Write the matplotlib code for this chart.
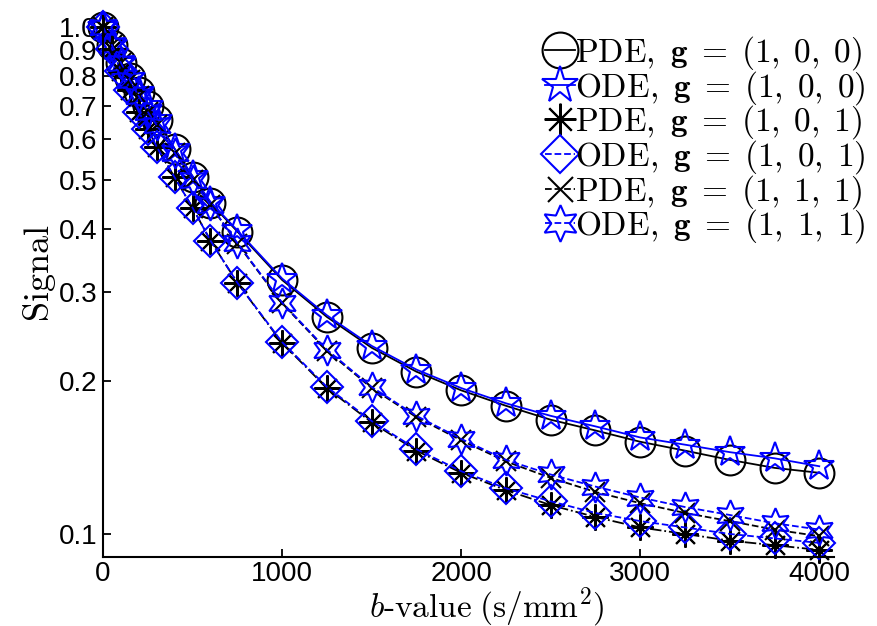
import matplotlib
matplotlib.use("Agg")
import matplotlib.pyplot as plt

plt.rcParams['font.family'] = ['Liberation Sans', 'DejaVu Sans']
plt.rcParams['mathtext.fontset'] = 'cm'

# b-values (s/mm^2)
bvals = [0, 50, 100, 150, 200, 250, 300, 400, 500, 600, 750, 1000, 1250, 1500,
         1750, 2000, 2250, 2500, 2750, 3000, 3250, 3500, 3750, 4000]

# signals
pde_100 = [1.0, 0.92, 0.85, 0.795, 0.745, 0.70, 0.655, 0.575, 0.507, 0.45, 0.395, 0.317,
           0.268, 0.233, 0.209, 0.192, 0.179, 0.168, 0.160, 0.152, 0.146, 0.140, 0.135, 0.132]
ode_100 = [1.0, 0.92, 0.85, 0.795, 0.745, 0.70, 0.655, 0.575, 0.508, 0.452, 0.397, 0.319,
           0.270, 0.235, 0.211, 0.194, 0.181, 0.171, 0.163, 0.155, 0.150, 0.145, 0.141, 0.136]
pde_101 = [1.0, 0.905, 0.82, 0.75, 0.68, 0.63, 0.58, 0.505, 0.44, 0.379, 0.313, 0.238,
           0.194, 0.166, 0.146, 0.132, 0.122, 0.114, 0.108, 0.103, 0.100, 0.097, 0.095, 0.093]
ode_101 = [1.0, 0.905, 0.82, 0.75, 0.68, 0.63, 0.58, 0.505, 0.44, 0.379, 0.313, 0.239,
           0.195, 0.167, 0.147, 0.133, 0.123, 0.116, 0.110, 0.106, 0.103, 0.100, 0.098, 0.096]
pde_111 = [1.0, 0.92, 0.85, 0.785, 0.73, 0.68, 0.64, 0.565, 0.50, 0.445, 0.374, 0.285,
           0.230, 0.194, 0.170, 0.153, 0.139, 0.129, 0.121, 0.115, 0.110, 0.106, 0.102, 0.099]
ode_111 = [1.0, 0.92, 0.85, 0.785, 0.73, 0.68, 0.64, 0.565, 0.50, 0.445, 0.375, 0.286,
           0.231, 0.195, 0.171, 0.154, 0.140, 0.131, 0.124, 0.118, 0.113, 0.109, 0.105, 0.102]

labels = [r'$\mathrm{PDE},\ \mathbf{g}\;=\;(1,\;0,\;0)$',
          r'$\mathrm{ODE},\ \mathbf{g}\;=\;(1,\;0,\;0)$',
          r'$\mathrm{PDE},\ \mathbf{g}\;=\;(1,\;0,\;1)$',
          r'$\mathrm{ODE},\ \mathbf{g}\;=\;(1,\;0,\;1)$',
          r'$\mathrm{PDE},\ \mathbf{g}\;=\;(1,\;1,\;1)$',
          r'$\mathrm{ODE},\ \mathbf{g}\;=\;(1,\;1,\;1)$']

yticks = [0.1, 0.2, 0.3, 0.4, 0.5, 0.6, 0.7, 0.8, 0.9, 1.0]

fig = plt.figure(figsize=(8.77, 6.26), dpi=100)
ax = fig.add_axes([0.1175, 0.110, 0.833, 0.864])

kw = dict(mfc='none', mew=1.5, lw=1.3, clip_on=False)
ax.plot(bvals, pde_100, '-', color='k', marker='o', ms=21.5, label=labels[0], **kw)
ax.plot(bvals, ode_100, '-', color='b', marker='*', ms=23, label=labels[1], **kw)
ax.plot(bvals, pde_101, '-.', color='k', marker=(8, 2, 0), ms=19, label=labels[2], **kw)
ax.plot(bvals, ode_101, '--', color='b', marker='D', ms=16, label=labels[3], **kw)
ax.plot(bvals, pde_111, '--', color='k', marker='x', ms=15, label=labels[4], **kw)
ax.plot(bvals, ode_111, '--', color='b', marker=(6, 1, 0), ms=22, label=labels[5], **kw)

ax.set_yscale('log')
ax.set_xlim(0, 4080)
ax.set_ylim(0.09, 1.05)
ax.set_yticks(yticks)
ax.set_yticklabels(['%.1f' % t for t in yticks])
ax.minorticks_off()
ax.set_xticks([0, 1000, 2000, 3000, 4000])
ax.tick_params(direction='in', length=6, width=1.3, labelsize=20, pad=4)
ax.tick_params(axis='x', pad=3)
ax.spines['top'].set_visible(False)
ax.spines['right'].set_visible(False)
ax.spines['left'].set_linewidth(1.5)
ax.spines['bottom'].set_linewidth(1.5)

ax.set_xlabel(r'$b\text{-value}\;(\mathrm{s/mm^2})$', fontsize=24)
ax.xaxis.set_label_coords(0.526, -0.052)
ax.set_ylabel(r'$\mathrm{Signal}$', fontsize=26)
ax.yaxis.set_label_coords(-0.062, 0.525)

ax.legend(loc='upper right', bbox_to_anchor=(0.987, 0.945), bbox_transform=fig.transFigure,
          frameon=False, fontsize=24, handlelength=0.9, handletextpad=0.0,
          labelspacing=-0.1, borderpad=0, borderaxespad=0, markerscale=1.2)

fig.savefig('out.png', dpi=100)
